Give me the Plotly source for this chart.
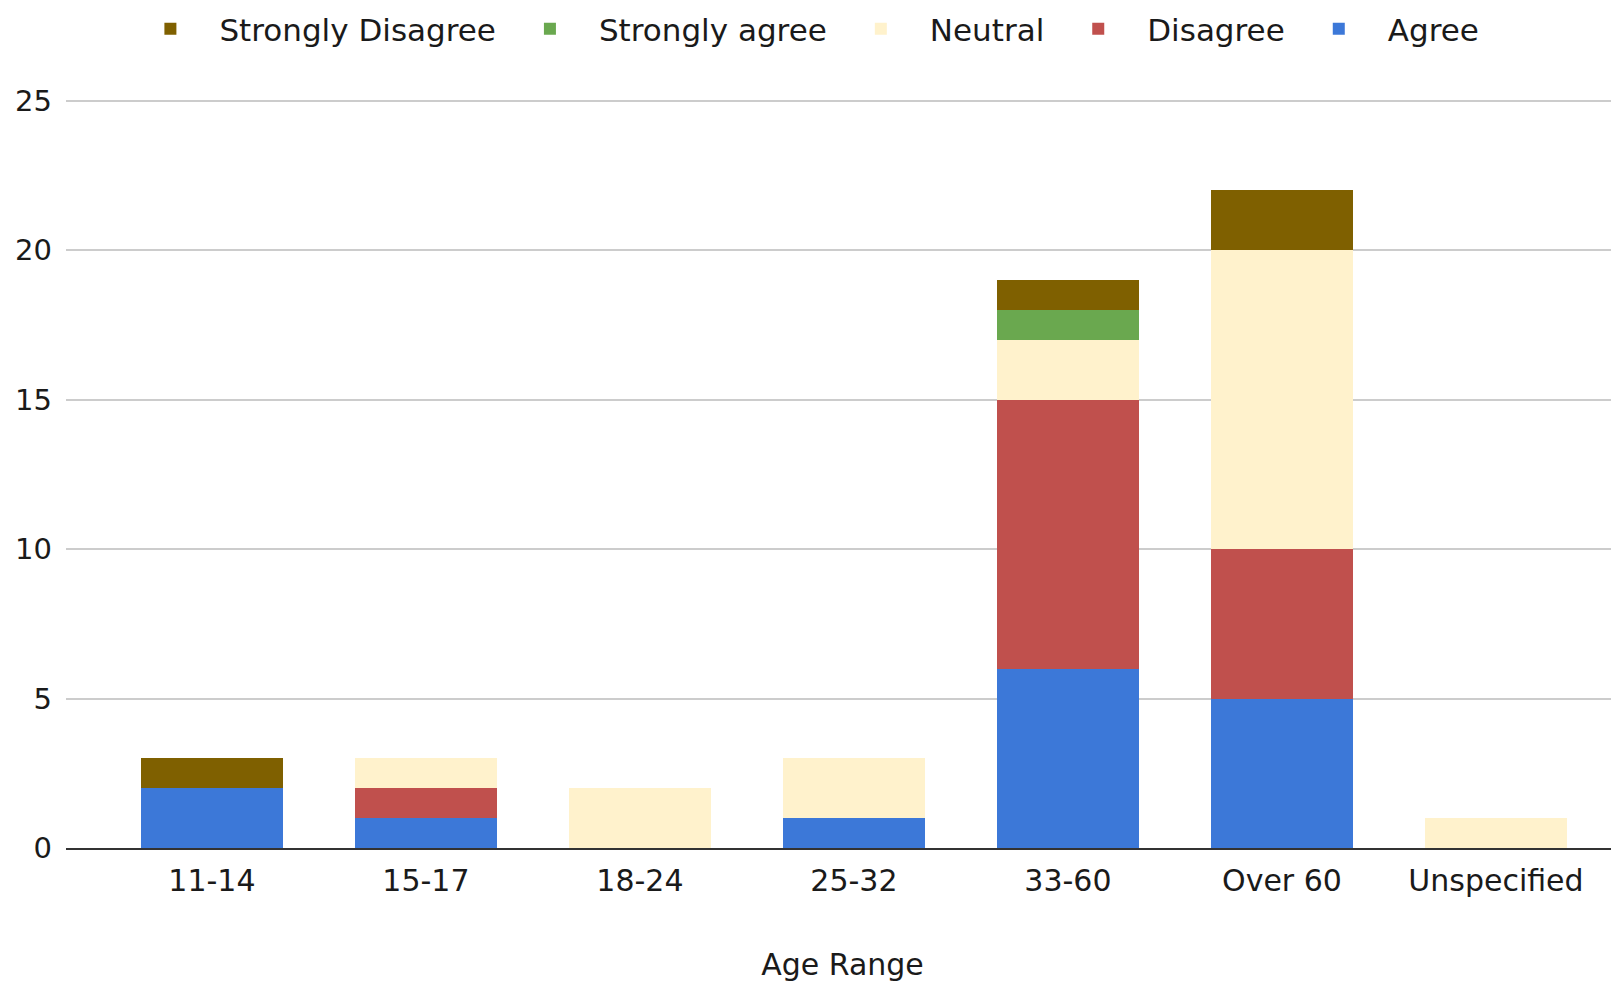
import plotly.graph_objects as go

categories = ["11-14", "15-17", "18-24", "25-32", "33-60", "Over 60", "Unspecified"]
agree = [2, 1, 0, 1, 6, 5, 0]
disagree = [0, 1, 0, 0, 9, 5, 0]
neutral = [0, 1, 2, 2, 2, 10, 1]
strongly_agree = [0, 0, 0, 0, 1, 0, 0]
strongly_disagree = [1, 0, 0, 0, 1, 2, 0]

series = [
    ("Agree", agree, "#3c78d8"),
    ("Disagree", disagree, "#c0504d"),
    ("Neutral", neutral, "#fff2cc"),
    ("Strongly agree", strongly_agree, "#6aa84f"),
    ("Strongly Disagree", strongly_disagree, "#7f6000"),
]

FONT = "'DejaVu Sans', sans-serif"
TXT = "#1a1a1a"

fig = go.Figure()
for name, vals, color in series:
    fig.add_trace(go.Bar(
        x=categories, y=vals, name=name,
        marker=dict(color=color, line=dict(width=0)),
        width=0.66,
    ))

fig.update_layout(
    barmode="stack",
    width=1611, height=974,
    margin=dict(l=58, r=0, t=90.5, b=134),
    paper_bgcolor="white", plot_bgcolor="white",
    font=dict(family=FONT, size=29, color=TXT),
    legend=dict(
        orientation="h", traceorder="reversed",
        x=0.4745, xanchor="center",
        yref="container", y=0.9784, yanchor="middle",
        font=dict(size=31, color=TXT),
        itemwidth=88,
    ),
    xaxis=dict(
        range=[-0.682, 6.575],
        showgrid=False,
        tickfont=dict(size=30, color=TXT),
        ticklabelstandoff=5,
        title=dict(text="Age Range", font=dict(size=30, color=TXT), standoff=63),
        showline=True, linecolor="#333333", linewidth=2,
        ticks="",
    ),
    yaxis=dict(
        range=[0, 25.05],
        tickvals=[0, 5, 10, 15, 20, 25],
        showgrid=True, gridcolor="#cccccc", gridwidth=2,
        zeroline=False,
        tickfont=dict(size=29, color=TXT),
        ticklabelstandoff=13,
    ),
)

fig.write_html("out.html")
